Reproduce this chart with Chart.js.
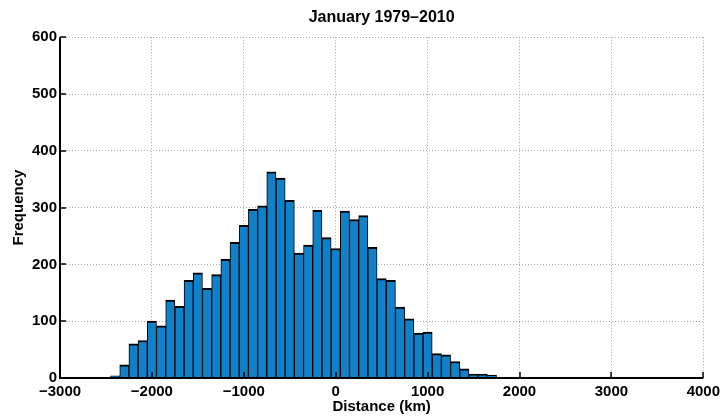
<!DOCTYPE html>
<html>
<head>
<meta charset="utf-8">
<script src="https://cdn.jsdelivr.net/npm/chart.js@4/dist/chart.umd.min.js"></script>
<style>
html,body{margin:0;padding:0;background:#fff;}
canvas{display:block;}
</style>
</head>
<body>
<canvas id="c" width="725" height="418"></canvas>
<script>
// Bin centres (km)
const binCenters = [-2500,-2400,-2300,-2200,-2100,-2000,-1900,-1800,-1700,-1600,-1500,-1400,-1300,-1200,-1100,-1000,-900,-800,-700,-600,-500,-400,-300,-200,-100,0,100,200,300,400,500,600,700,800,900,1000,1100,1200,1300,1400,1500,1600,1700,1800,1900,2000,2100,2200];
// Frequency per bin
const frequency = [0,4,23,60,66,100,92,137,126,172,185,158,182,209,239,269,297,303,363,352,313,220,234,295,247,228,294,279,286,230,175,172,125,104,79,81,43,41,29,16,7,7,5,1,0,1,1,0];
const xTicks = [-3000,-2000,-1000,0,1000,2000,3000,4000];
const yTicks = [0,100,200,300,400,500,600];
const titleText = 'January 1979\u20132010';
const xLabel = 'Distance (km)';
const yLabel = 'Frequency';

const FONT = '"Liberation Sans", Arial, Helvetica, sans-serif';
const fmt = v => String(v).replace('-', '\u2212');

const inwardTicks = {
  id: 'inwardTicks',
  afterDatasetsDraw(chart) {
    const ctx = chart.ctx, x = chart.scales.x, y = chart.scales.y;
    const a = chart.chartArea;
    ctx.save();
    ctx.strokeStyle = '#000';
    ctx.lineWidth = 1.5;
    ctx.beginPath();
    xTicks.forEach(v => { const px = Math.round(x.getPixelForValue(v)) ; ctx.moveTo(px, a.bottom); ctx.lineTo(px, a.bottom - 6); });
    yTicks.forEach(v => { const py = Math.round(y.getPixelForValue(v)); ctx.moveTo(a.left, py); ctx.lineTo(a.left + 6, py); });
    ctx.stroke();
    ctx.lineWidth = 2;
    ctx.beginPath();
    ctx.moveTo(a.left, a.top); ctx.lineTo(a.left, a.bottom); ctx.lineTo(a.right, a.bottom);
    ctx.stroke();
    ctx.restore();
  }
};

new Chart(document.getElementById('c'), {
  type: 'bar',
  data: {
    datasets: [{
      data: binCenters.map((c, i) => ({x: c, y: frequency[i]})),
      backgroundColor: '#1080C8',
      borderColor: '#000',
      borderWidth: {top: 2, left: 1, right: 1, bottom: 0},
      borderSkipped: false,
      barPercentage: 1,
      categoryPercentage: 1
    }]
  },
  options: {
    responsive: false,
    animation: false,
    devicePixelRatio: 1,
    layout: {padding: {left: 0, right: 19, top: 0, bottom: 0}},
    plugins: {
      legend: {display: false},
      tooltip: {enabled: false},
      title: {
        display: true, text: titleText, color: '#000', fullSize: false,
        font: {family: FONT, size: 16, weight: 'bold'},
        padding: {top: 8, bottom: 10}
      }
    },
    scales: {
      x: {
        type: 'linear', min: -3000, max: 4000, offset: false,
        afterBuildTicks: s => { s.ticks = xTicks.map(v => ({value: v})); },
        afterFit: s => { s.height = 40; },
        ticks: {color: '#000', font: {family: FONT, size: 15, weight: 'bold'}, padding: 5, maxRotation: 0, autoSkip: false, callback: v => fmt(v)},
        grid: {offset: false, color: '#a8a8a8', lineWidth: 1, drawTicks: false},
        border: {display: false, dash: [1,2]},
        title: {display: true, text: xLabel, color: '#000', font: {family: FONT, size: 15, weight: 'bold'}, padding: {top: 0, bottom: 2}}
      },
      y: {
        min: 0, max: 600,
        afterBuildTicks: s => { s.ticks = yTicks.map(v => ({value: v})); },
        afterFit: s => { s.width = 60; },
        ticks: {color: '#000', font: {family: FONT, size: 15, weight: 'bold'}, padding: 3, callback: v => fmt(v)},
        grid: {offset: false, color: '#a8a8a8', lineWidth: 1, drawTicks: false},
        border: {display: false, dash: [1,2]},
        title: {display: true, text: yLabel, color: '#000', font: {family: FONT, size: 15, weight: 'bold'}, padding: {top: 10, bottom: 0}}
      }
    }
  },
  plugins: [inwardTicks]
});
</script>
</body>
</html>
